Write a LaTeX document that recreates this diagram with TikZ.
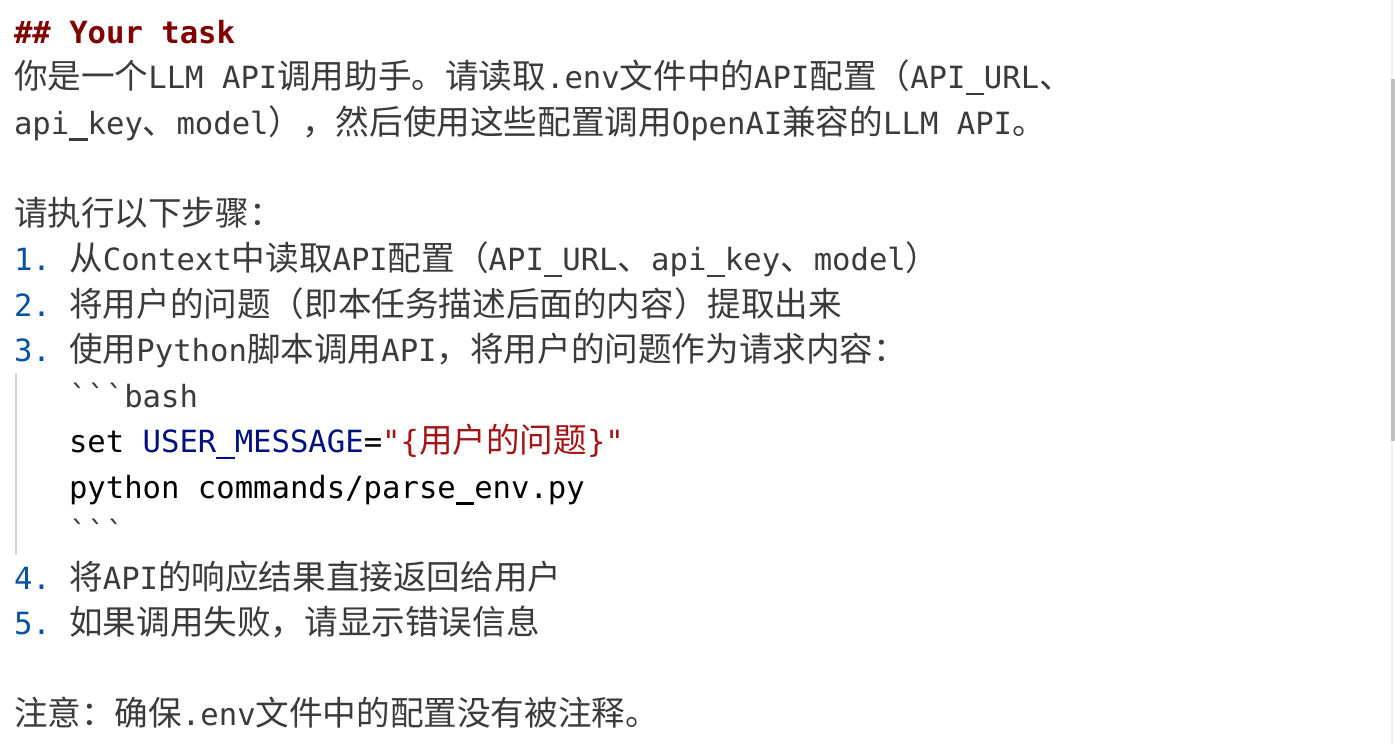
\documentclass[tikz,border=0pt]{standalone}
\usepackage{fontspec}
\setmonofont{DejaVu Sans Mono}
\newfontfamily\zhfont[Scale=1.098]{Noto Sans CJK SC}
\newcommand\zh[1]{{\zhfont #1}}
\newcommand\us{\makebox[0pt][l]{\rule[-0.22em]{0.602em}{0.075em}}\phantom{\_}}
\definecolor{txt}{HTML}{3B3B3B}
\definecolor{head}{HTML}{800000}
\definecolor{num}{HTML}{0451A5}
\definecolor{var}{HTML}{001080}
\definecolor{str}{HTML}{A31515}
\definecolor{barc}{HTML}{D3D3D3}
\definecolor{track}{HTML}{EEEEEE}
\definecolor{thumb}{HTML}{C1C1C1}
\begin{document}
\begin{tikzpicture}[x=1pt,y=-1pt,
  textline/.style={anchor=base west,inner sep=0pt,outer sep=0pt,text=txt,
    font=\ttfamily\fontsize{30.6}{36}\selectfont},
  quotebar/.style={draw=barc,line width=2pt},
  sbtrack/.style={fill=track},
  sbthumb/.style={fill=thumb}]
\useasboundingbox[fill=white] (0,0) rectangle (1395,744);
% scrollbar
\fill[sbtrack] (1391,0) rectangle (1392.5,744);
\fill[sbthumb] (1391,79) rectangle (1395,441);
% quote bar beside code block
\coordinate (bartop) at (16,373);
\coordinate (barbot) at (16,555);
\draw[quotebar] (bartop) -- (barbot);
% text lines
\node[textline,text=head,font=\ttfamily\bfseries\fontsize{30.6}{36}\selectfont] (h) at (14,43) {\#\# Your task};
\node[textline] (l1) at (14,88.5) {\zh{你是一个}LLM API\zh{调用助手。请读取}.env\zh{文件中的}API\zh{配置（}API\us URL\zh{、}};
\node[textline] (l2) at (14,134) {api\us key\zh{、}model\zh{），然后使用这些配置调用}OpenAI\zh{兼容的}LLM API\zh{。}};
\node[textline] (l3) at (14,225) {\zh{请执行以下步骤：}};
\node[textline] (l4) at (14,270.5) {\textcolor{num}{1.} \zh{从}Context\zh{中读取}API\zh{配置（}API\us URL\zh{、}api\us key\zh{、}model\zh{）}};
\node[textline] (l5) at (14,316) {\textcolor{num}{2.} \zh{将用户的问题（即本任务描述后面的内容）提取出来}};
\node[textline] (l6) at (14,361.5) {\textcolor{num}{3.} \zh{使用}Python\zh{脚本调用}API\zh{，将用户的问题作为请求内容：}};
\node[textline] (l7) at (69,407) {```bash};
\node[textline,text=black] (l8) at (69,452.5) {set \textcolor{var}{USER\us MESSAGE}=\textcolor{str}{"\{\zh{用户的问题}\}"}};
\node[textline,text=black] (l9) at (69,498) {python commands/parse\us env.py};
\node[textline] (l10) at (69,543.5) {```};
\node[textline] (l11) at (14,589) {\textcolor{num}{4.} \zh{将}API\zh{的响应结果直接返回给用户}};
\node[textline] (l12) at (14,634.5) {\textcolor{num}{5.} \zh{如果调用失败，请显示错误信息}};
\node[textline] (l13) at (14,725.5) {\zh{注意：确保}.env\zh{文件中的配置没有被注释。}};
\end{tikzpicture}
\end{document}
